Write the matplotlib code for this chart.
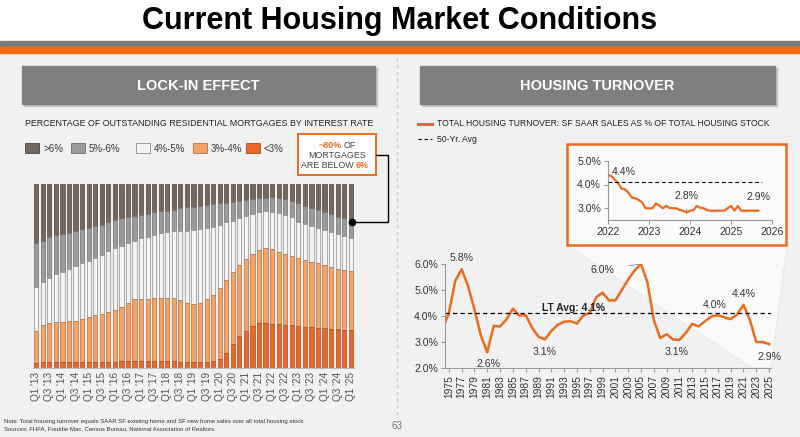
import numpy as np
import matplotlib.pyplot as plt
from matplotlib.patches import Rectangle, Polygon
import matplotlib.ticker as mticker

plt.rcParams['font.family'] = ['Liberation Sans', 'DejaVu Sans']

W, H = 800, 437

# ---------------- data: lock-in effect (cumulative share below each rate, %) ----------------
quarters = [f"Q{q} '{y:02d}" for y in range(13, 26) for q in range(1, 5)][:49]

below6 = [68.1, 69.0, 71.0, 72.1, 72.8, 73.5, 74.5, 75.4, 76.3, 77.4,
          77.9, 79.3, 80.3, 81.3, 81.9, 82.6, 83.3, 83.9, 84.6, 85.2,
          85.5, 86.1, 86.8, 87.3, 87.7, 88.2, 88.6, 89.1, 89.5, 89.9,
          90.4, 90.9, 91.3, 91.7, 92.2, 92.6, 92.8, 92.4, 91.8, 90.9,
          89.5, 88.2, 87.0, 85.9, 84.6, 83.5, 82.2, 81.3, 80.4]
below5 = [43.9, 46.5, 49.1, 50.9, 52.4, 53.8, 55.3, 56.9, 58.3, 59.9,
          61.4, 63.4, 65.0, 66.5, 67.8, 69.2, 70.5, 71.4, 72.3, 73.2,
          73.7, 74.3, 74.6, 74.4, 74.8, 75.5, 76.3, 76.8, 77.7, 79.2,
          80.1, 81.3, 82.6, 83.7, 84.6, 85.3, 85.0, 84.1, 83.0, 81.9,
          79.5, 78.3, 77.2, 76.3, 75.0, 73.7, 72.6, 71.7, 70.5]
below4 = [20.1, 23.4, 24.3, 24.8, 25.0, 25.4, 25.7, 26.4, 27.7, 28.8,
          29.3, 30.4, 31.5, 33.2, 35.5, 37.5, 37.5, 37.5, 37.9, 38.0,
          37.9, 37.9, 36.8, 35.4, 34.8, 35.2, 37.3, 39.7, 43.3, 47.8,
          52.0, 56.0, 59.1, 62.0, 64.1, 65.4, 64.7, 63.2, 62.0, 60.9,
          59.8, 58.7, 57.8, 56.9, 56.0, 54.7, 54.0, 53.3, 52.5]
below3 = [2.5, 3.3, 3.3, 3.3, 3.3, 3.3, 3.3, 3.3, 3.3, 3.3,
          3.3, 3.3, 3.3, 4.0, 4.0, 4.0, 4.0, 4.0, 4.0, 4.0,
          4.0, 4.0, 3.5, 3.5, 3.5, 3.5, 3.5, 3.8, 5.1, 8.0,
          12.9, 17.6, 20.3, 22.8, 24.3, 24.6, 24.1, 23.7, 23.4, 23.2,
          22.8, 22.5, 22.1, 21.7, 21.6, 21.2, 21.0, 20.7, 20.7]

bucket_labels = ['>6%', '5%-6%', '4%-5%', '3%-4%', '<3%']
bucket_colors = ['#74675b', '#9b9b9b', '#f4f4f4', '#f4a468', '#e9672a']
bucket_edges = ['#4f463e', '#707070', '#8f8f8f', '#b8713f', '#a94a1c']

# ---------------- data: housing turnover ----------------
years = list(range(1974, 2026))
turnover = [3.5, 4.1, 5.35, 5.8, 5.15, 4.25, 3.25, 2.6, 3.62, 3.6,
            3.87, 4.28, 4.02, 4.03, 3.55, 3.2, 3.1, 3.42, 3.66, 3.78,
            3.8, 3.71, 4.02, 4.12, 4.72, 4.9, 4.6, 4.6, 5.0, 5.4,
            5.75, 6.0, 5.3, 3.85, 3.15, 3.3, 3.1, 3.08, 3.35, 3.7,
            3.6, 3.8, 3.98, 4.03, 3.95, 3.88, 4.05, 4.43, 3.85, 3.0,
            3.0, 2.92]
lt_avg = 4.1

months = [2022 + m / 12 for m in range(45)]
recent = [4.4, 4.35, 4.2, 4.05, 3.82, 3.8, 3.65, 3.45, 3.42, 3.35,
          3.25, 3.0, 3.0, 3.0, 3.2, 3.12, 3.0, 3.1, 3.02, 3.0,
          3.0, 2.93, 2.9, 2.82, 2.9, 2.92, 3.1, 3.02, 3.0, 2.92,
          2.9, 2.9, 2.9, 2.9, 2.9, 3.0, 3.1, 2.9, 3.1, 2.9,
          2.9, 2.9, 2.9, 2.9, 2.9]

ORANGE = '#ec6b1f'
TXT = '#3a3a3a'


def rect(x0, y0, x1, y1):
    return [x0 / W, 1 - y1 / H, (x1 - x0) / W, (y1 - y0) / H]


fig = plt.figure(figsize=(8, 4.37), dpi=100)

# background / page furniture in pixel coordinates
bg = fig.add_axes([0, 0, 1, 1], zorder=0)
bg.set_xlim(0, W)
bg.set_ylim(H, 0)
bg.axis('off')
bg.add_patch(Rectangle((0, 0), W, H, color='white'))
bg.add_patch(Rectangle((0, 52), W, H - 52, color='#f1f1f1'))
bg.add_patch(Rectangle((0, 41), W, 6, color='#7b7b7b'))
bg.add_patch(Rectangle((0, 46.5), W, 6, color='#f26a12'))
bg.text(400, 21, 'Current Housing Market Conditions', ha='center', va='center',
        fontsize=22, fontweight='bold', color='black')

for x0, x1, label in [(22, 375, 'LOCK-IN EFFECT'), (420, 775, 'HOUSING TURNOVER')]:
    bg.add_patch(Rectangle((x0 + 2, 68), x1 - x0, 38, color='#c4c4c4'))
    bg.add_patch(Rectangle((x0, 66), x1 - x0, 38, color='#7f7f7f'))
    bg.text((x0 + x1) / 2, 85.5, label, ha='center', va='center', color='white',
            fontsize=10.5, fontweight='bold')

bg.plot([397, 397], [58, 418], color='#c8c8c8', lw=0.8, ls=(0, (3, 3)))

# left panel header text and legend
bg.text(25, 124, 'PERCENTAGE OF OUTSTANDING RESIDENTIAL MORTGAGES BY INTEREST RATE',
        fontsize=6.4, color='#222222', va='center')
leg_x = [25, 71, 136, 193, 246]
for x, lab, c, e in zip(leg_x, bucket_labels, bucket_colors, bucket_edges):
    bg.add_patch(Rectangle((x, 143), 14, 10, facecolor=c, edgecolor=e, lw=0.6))
    bg.text(x + 18, 148.5, lab, fontsize=7, color=TXT, va='center')

# callout
bg.add_patch(Rectangle((298, 134), 78, 41, facecolor='white', edgecolor=ORANGE, lw=1.4))
bg.text(342, 145, '~80%', ha='right', va='center', fontsize=6.4, color=ORANGE, fontweight='bold')
bg.text(344, 145, 'OF', ha='left', va='center', fontsize=6.4, color='#444444')
bg.text(337, 155, 'MORTGAGES', ha='center', va='center', fontsize=6.4, color='#444444')
bg.text(354, 165, 'ARE BELOW', ha='right', va='center', fontsize=6.4, color='#444444')
bg.text(356, 165, '6%', ha='left', va='center', fontsize=6.4, color=ORANGE, fontweight='bold')

# right panel legend
bg.plot([418, 432], [124, 124], color=ORANGE, lw=2.2)
bg.text(437, 124, 'TOTAL HOUSING TURNOVER: SF SAAR SALES AS % OF TOTAL HOUSING STOCK',
        fontsize=6.2, color='#222222', va='center')
bg.plot([418, 432], [139, 139], color='black', lw=0.8, ls=(0, (3, 2.5)))
bg.text(437, 139, '50-Yr. Avg', fontsize=6.2, color='#222222', va='center')

# zoom wedge from inset to chart tail
bg.add_patch(Polygon([(567, 245), (787, 245), (771, 368), (752, 368)], closed=True,
                     facecolor='white', edgecolor='#dcdcdc', lw=0.5, alpha=0.7))

# inset frame
bg.add_patch(Rectangle((567, 144), 219, 101, facecolor='#fbfbfb', edgecolor=ORANGE, lw=1.8))

# footnotes
bg.text(4, 421, 'Note: Total housing turnover equals SAAR SF existing home and SF new home sales over all total housing stock',
        fontsize=4.3, color='#333333', va='center')
bg.text(4, 429, 'Sources: FHFA, Freddie Mac, Census Bureau, National Association of Realtors',
        fontsize=4.3, color='#333333', va='center')
bg.text(397, 426, '63', fontsize=7, color='#777777', ha='center', va='center')

# ---------------- stacked bars ----------------
ax = fig.add_axes(rect(33, 184, 354, 368), zorder=1)
ax.patch.set_alpha(0)
x = np.arange(len(quarters))
b6 = np.array(below6); b5 = np.array(below5); b4 = np.array(below4); b3 = np.array(below3)
segs = [(b6, 100 - b6), (b5, b6 - b5), (b4, b5 - b4), (b3, b4 - b3), (np.zeros_like(b3), b3)]
for (bottom, height), c, e in zip(segs, bucket_colors, bucket_edges):
    ax.bar(x, height, bottom=bottom, width=0.64, color=c, edgecolor=e, linewidth=0.5)
ax.set_xlim(-0.5, len(quarters) - 0.5)
ax.set_ylim(0, 100)
ax.set_yticks([])
ax.set_xticks(x[::2])
ax.set_xticklabels(quarters[::2], rotation=90, fontsize=7.2, color='#555555')
ax.tick_params(axis='x', length=0, pad=3)
for s in ['top', 'right', 'left']:
    ax.spines[s].set_visible(False)
ax.spines['bottom'].set_color('#bdbdbd')

# ---------------- turnover line chart ----------------
ax2 = fig.add_axes(rect(445, 264, 771, 368), zorder=1)
ax2.patch.set_alpha(0)
ax2.plot(years, turnover, color=ORANGE, lw=1.8, solid_joinstyle='round', clip_on=True)
ax2.axhline(lt_avg, color='black', lw=0.9, ls=(0, (3.5, 2.5)))
ax2.set_xlim(1974.4, 2025.3)
ax2.set_ylim(2.0, 6.0)
ax2.set_xticks(range(1975, 2026, 2))
ax2.tick_params(axis='x', labelrotation=90, labelsize=7.4, length=3, color='#999999',
                labelcolor='#333333', pad=2)
ax2.set_yticks([2, 3, 4, 5, 6])
ax2.yaxis.set_major_formatter(mticker.FormatStrFormatter('%.1f%%'))
ax2.tick_params(axis='y', labelsize=7.6, length=3, color='#999999', labelcolor='#333333', pad=2)
for s in ['top', 'right']:
    ax2.spines[s].set_visible(False)
for s in ['left', 'bottom']:
    ax2.spines[s].set_color('#9a9a9a')
    ax2.spines[s].set_linewidth(0.8)

lab_kw = dict(fontsize=7.6, color='#333333', ha='center', va='center')
ax2.annotate('5.8%', (1977, 5.8), xytext=(0, 8), textcoords='offset points', **lab_kw)
ax2.annotate('2.6%', (1981, 2.6), xytext=(1, -8), textcoords='offset points', **lab_kw)
ax2.annotate('3.1%', (1990, 3.1), xytext=(0, -9), textcoords='offset points', **lab_kw)
ax2.annotate('6.0%', (2005, 6.0), xytext=(-28, -4), textcoords='offset points',
             arrowprops=dict(arrowstyle='-', color='#888888', lw=0.6, shrinkA=9, shrinkB=1), **lab_kw)
ax2.annotate('3.1%', (2010.5, 3.08), xytext=(0, -9), textcoords='offset points', **lab_kw)
ax2.annotate('4.0%', (2017, 4.03), xytext=(-2, 7), textcoords='offset points', **lab_kw)
ax2.annotate('4.4%', (2021, 4.43), xytext=(0, 8), textcoords='offset points', **lab_kw)
ax2.annotate('2.9%', (2025, 2.92), xytext=(0, -9), textcoords='offset points', **lab_kw)
ax2.text(1994.5, lt_avg + 0.22, 'LT Avg: 4.1%', fontsize=7.4, fontweight='bold',
         color='#222222', ha='center', va='center')

# ---------------- inset: recent months ----------------
ax3 = fig.add_axes(rect(608, 160.7, 772, 220.2), zorder=2)
ax3.patch.set_alpha(0)
ax3.plot(months, recent, color=ORANGE, lw=1.6, solid_joinstyle='round')
ax3.plot([2022, 2025.75], [lt_avg, lt_avg], color='black', lw=0.8, ls=(0, (3.5, 2.5)))
ax3.set_xlim(2022, 2026)
ax3.set_ylim(2.5, 5.0)
ax3.set_xticks([2022, 2023, 2024, 2025, 2026])
ax3.set_yticks([3, 4, 5])
ax3.yaxis.set_major_formatter(mticker.FormatStrFormatter('%.1f%%'))
ax3.tick_params(labelsize=7.6, length=3, color='#999999', labelcolor='#333333', pad=2)
for s in ['top', 'right']:
    ax3.spines[s].set_visible(False)
for s in ['left', 'bottom']:
    ax3.spines[s].set_color('#9a9a9a')
    ax3.spines[s].set_linewidth(0.8)
ax3.annotate('4.4%', (months[0], recent[0]), xytext=(11, 2), textcoords='offset points', **lab_kw)
ax3.annotate('2.8%', (months[23], recent[23]), xytext=(0, 12), textcoords='offset points',
             arrowprops=dict(arrowstyle='-', color='#888888', lw=0.6, shrinkA=4, shrinkB=1), **lab_kw)
ax3.annotate('2.9%', (months[-1], recent[-1]), xytext=(0, 10), textcoords='offset points', **lab_kw)

# ---------------- callout connector (drawn on top) ----------------
ov = fig.add_axes([0, 0, 1, 1], zorder=5)
ov.set_xlim(0, W)
ov.set_ylim(H, 0)
ov.axis('off')
ov.patch.set_alpha(0)
ov.plot([376, 388, 388, 352], [155, 155, 221.5, 221.5], color='black', lw=1.0)
ov.plot([352], [221.5], 'o', color='black', ms=4.5)

fig.savefig('out.png', dpi=100)
